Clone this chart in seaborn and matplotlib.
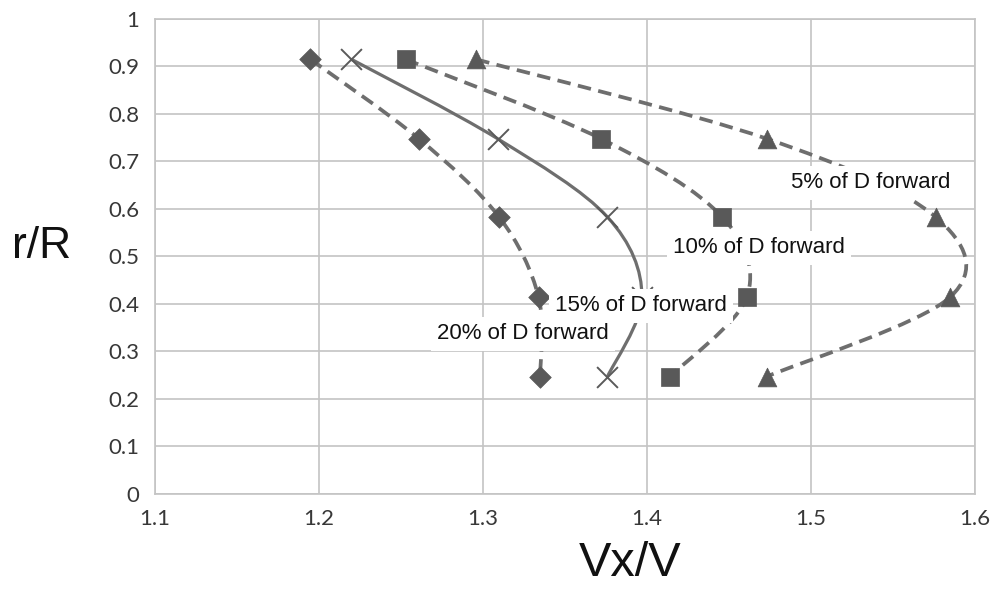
import numpy as np
import matplotlib
matplotlib.use('Agg')
import matplotlib.pyplot as plt
import seaborn as sns
from matplotlib.path import Path
from matplotlib.patches import PathPatch

# r/R stations (same for every series)
r_R = [0.915, 0.748, 0.583, 0.415, 0.247]

# Vx/V per series
vx_5 = [1.296, 1.473, 1.576, 1.585, 1.473]
vx_10 = [1.253, 1.372, 1.446, 1.461, 1.414]
vx_15 = [1.220, 1.309, 1.376, 1.397, 1.376]
vx_20 = [1.195, 1.261, 1.310, 1.334, 1.335]

labels = ['5% of D forward', '10% of D forward', '15% of D forward', '20% of D forward']
label_pos = [(1.488, 0.655), (1.416, 0.518), (1.344, 0.396), (1.272, 0.337)]

x_ticks = [1.1, 1.2, 1.3, 1.4, 1.5, 1.6]
y_ticks = [0, 0.1, 0.2, 0.3, 0.4, 0.5, 0.6, 0.7, 0.8, 0.9, 1]


def smooth_path(xs, ys):
    # Excel-style smoothed line: cubic Bezier segments through the points
    p = np.column_stack([xs, ys])
    ext = np.vstack([p[0], p, p[-1]])
    verts = [p[0]]
    codes = [Path.MOVETO]
    for i in range(len(p) - 1):
        p0, p1, p2, p3 = ext[i], ext[i + 1], ext[i + 2], ext[i + 3]
        c1 = p1 + (p2 - p0) / 6
        c2 = p2 - (p3 - p1) / 6
        verts += [c1, c2, p2]
        codes += [Path.CURVE4] * 3
    return Path(verts, codes)


sns.set_style('white')
plt.rcParams['font.family'] = ['Liberation Sans', 'DejaVu Sans']

fig, ax = plt.subplots(figsize=(9.97, 5.93), dpi=100)
fig.subplots_adjust(left=0.155, right=0.978, top=0.968, bottom=0.167)

series = [
    (vx_5, '^', 13.5, (0, (3.6, 2.0)), 2.7),
    (vx_10, 's', 13.5, (0, (3.6, 2.0)), 2.7),
    (vx_15, 'x', 15, '-', 2.3),
    (vx_20, 'D', 11, (0, (3.6, 2.0)), 2.7),
]

for vx, mk, ms, ls, lw in series:
    ax.add_patch(PathPatch(smooth_path(vx, r_R), fill=False, edgecolor='#6e6e6e',
                           linestyle=ls, linewidth=lw, zorder=3))
    if mk == 'x':
        sns.scatterplot(x=vx, y=r_R, marker='x', s=ms ** 2, color='#5a5a5a',
                        linewidth=1.4, ax=ax, zorder=4)
    else:
        sns.scatterplot(x=vx, y=r_R, marker=mk, s=ms ** 2, color='#595959',
                        edgecolor='#595959', linewidth=0.5, ax=ax, zorder=4)

for txt, (tx, ty) in zip(labels, label_pos):
    ax.text(tx, ty, txt, ha='left', va='center', fontsize=16, color='#111111',
            bbox=dict(facecolor='white', edgecolor='none', pad=4.5), zorder=6)

ax.set_xlim(1.1, 1.6)
ax.set_ylim(0, 1)
ax.set_xticks(x_ticks)
ax.set_yticks(y_ticks)
ax.set_xticklabels([f'{v:g}' for v in x_ticks])
ax.set_yticklabels([f'{v:g}' for v in y_ticks])
ax.tick_params(axis='both', labelsize=16, labelcolor='#383838', length=0, pad=11)
for lab in ax.get_xticklabels() + ax.get_yticklabels():
    lab.set_family(['Lato', 'DejaVu Sans'])

ax.grid(True, color='#c4c4c4', linewidth=1.2)
ax.set_axisbelow(True)
for sp in ax.spines.values():
    sp.set_color('#c4c4c4')
    sp.set_linewidth(1.2)

ax.set_xlabel('Vx/V', fontsize=35, color='#111111')
ax.xaxis.set_label_coords(0.579, -0.1)
ax.set_ylabel('r/R', fontsize=32, color='#111111', rotation=0, va='center', ha='center')
ax.yaxis.set_label_coords(-0.138, 0.52)

plt.savefig('out.png', dpi=100)
